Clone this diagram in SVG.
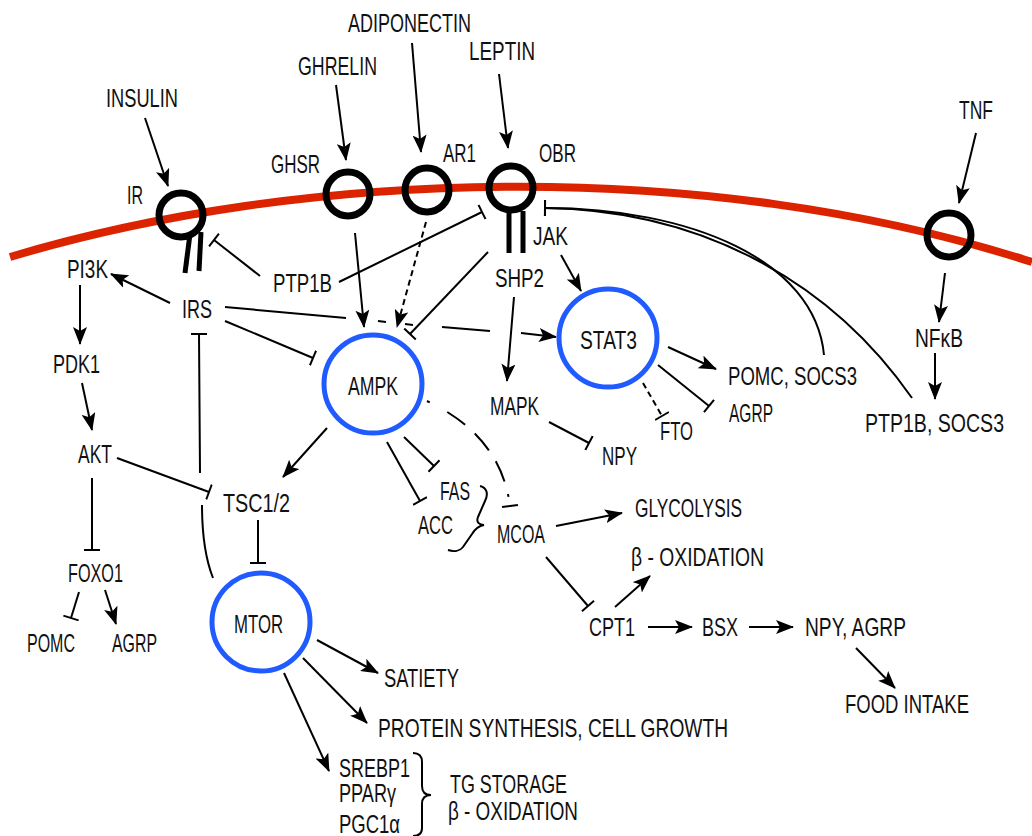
<svg xmlns="http://www.w3.org/2000/svg" width="1032" height="836" viewBox="0 0 1032 836">
<style>
.t{font-family:"Liberation Sans Narrow","Liberation Sans",Arial,sans-serif;font-size:26px;fill:#111}
.ring{fill:none;stroke:#000;stroke-width:7}
.stem{stroke:#000;stroke-width:5}
.hub{fill:#fff;stroke:#1f5bff;stroke-width:5}
.c{fill:none;stroke:#000;stroke-width:2}
.a{marker-end:url(#arr)}
.i{marker-end:url(#tee)}
.dsh{stroke-dasharray:6 4}
.brace{fill:none;stroke:#000;stroke-width:2}
</style>
<defs>
<marker id="arr" viewBox="0 0 18 14" refX="17" refY="7" markerWidth="18" markerHeight="14" markerUnits="userSpaceOnUse" orient="auto"><path d="M0,0 L18,7 L0,14 L4,7 z" fill="#000"/></marker>
<marker id="tee" viewBox="0 0 4 16" refX="2" refY="8" markerWidth="4" markerHeight="16" markerUnits="userSpaceOnUse" orient="auto"><line x1="2" y1="0" x2="2" y2="16" stroke="#000" stroke-width="2"/></marker>
</defs>
<rect width="1032" height="836" fill="#fff"/>
<path id="membrane" d="M10,257 C300,170 700,155 1032,262" fill="none" stroke="#dc2300" stroke-width="8"/>

<g id="connectors">
<line class="c a" x1="145" y1="118" x2="168" y2="186"/>
<line class="c a" x1="336" y1="85" x2="346" y2="160"/>
<line class="c a" x1="412" y1="43" x2="421" y2="152"/>
<line class="c a" x1="499" y1="74" x2="508" y2="148"/>
<line class="c a" x1="976" y1="133" x2="959" y2="203"/>
<line class="c a" x1="945" y1="273" x2="939" y2="322"/>
<line class="c a" x1="935" y1="353" x2="935" y2="399"/>
<line class="c a" x1="170" y1="303" x2="111" y2="274"/>
<line class="c a" x1="80" y1="285" x2="80" y2="344"/>
<line class="c a" x1="82" y1="383" x2="92" y2="430"/>
<line class="c a" x1="105" y1="590" x2="116" y2="624"/>
<line class="c a" x1="355" y1="233" x2="364" y2="327"/>
<line class="c a dsh" x1="426" y1="222" x2="397" y2="327"/>
<path class="c a" d="M225,307 L346,318 M378,321 L386,322 M405,324 L413,325 M442,327 L490,331 M521,333 L556,337"/>
<line class="c a" x1="561" y1="255" x2="581" y2="291"/>
<line class="c a" x1="514" y1="297" x2="507" y2="381"/>
<line class="c a" x1="668" y1="347" x2="716" y2="369"/>
<line class="c a" x1="327" y1="428" x2="283" y2="477"/>
<line class="c a" x1="556" y1="526" x2="622" y2="513"/>
<line class="c a" x1="615" y1="607" x2="650" y2="576"/>
<line class="c a" x1="648" y1="627" x2="692" y2="627"/>
<line class="c a" x1="749" y1="627" x2="793" y2="627"/>
<line class="c a" x1="856" y1="648" x2="895" y2="688"/>
<line class="c a" x1="317" y1="640" x2="378" y2="673"/>
<line class="c a" x1="303" y1="658" x2="367" y2="723"/>
<line class="c a" x1="284" y1="673" x2="329" y2="771"/>

<line class="c i" x1="260" y1="276" x2="214" y2="240"/>
<line class="c i" x1="339" y1="282" x2="482" y2="212"/>
<line class="c i" x1="225" y1="321" x2="313" y2="358"/>
<line class="c i" x1="488" y1="252" x2="410" y2="334"/>
<path class="c i" d="M824,355 C815,260 690,208 545,208"/>
<path class="c i" d="M912,398 C830,280 700,210 545,208"/>
<line class="c i" x1="658" y1="365" x2="709" y2="406"/>
<line class="c i dsh" x1="643" y1="383" x2="662" y2="416"/>
<line class="c i" x1="549" y1="422" x2="589" y2="443"/>
<line class="c i" x1="92" y1="478" x2="92" y2="550"/>
<line class="c i" x1="79" y1="592" x2="71" y2="618"/>
<line class="c i" x1="117" y1="458" x2="209" y2="492"/>
<path class="c i" d="M213,578 Q202,550 202,505 M200,473 L199,334"/>
<line class="c i" x1="258" y1="520" x2="258" y2="563"/>
<line class="c i" x1="404" y1="437" x2="434" y2="466"/>
<line class="c i" x1="387" y1="442" x2="420" y2="501"/>
<path class="c i" d="M427,401 Q501,436 510,506" stroke-dasharray="3 20 22 13 22 13 22 13"/>
<line class="c i" x1="546" y1="557" x2="588" y2="606"/>
</g>

<g id="ir"><circle class="ring" cx="181" cy="215" r="22"/><line class="stem" x1="190" y1="234" x2="185" y2="273"/><line class="stem" x1="201" y1="232" x2="199" y2="271"/><text class="t" x="127" y="204" textLength="16" lengthAdjust="spacingAndGlyphs">IR</text></g>
<g id="ghsr"><circle class="ring" cx="348" cy="194" r="22"/><text class="t" x="271" y="173" textLength="49" lengthAdjust="spacingAndGlyphs">GHSR</text></g>
<g id="ar1"><circle class="ring" cx="427" cy="190" r="22"/><text class="t" x="443" y="162" textLength="33" lengthAdjust="spacingAndGlyphs">AR1</text></g>
<g id="obr"><circle class="ring" cx="511" cy="188" r="22"/><line class="stem" x1="509" y1="211" x2="509" y2="253"/><line class="stem" x1="523" y1="211" x2="523" y2="253"/><text class="t" x="539" y="162" textLength="37" lengthAdjust="spacingAndGlyphs">OBR</text></g>
<g id="tnfr"><circle class="ring" cx="949" cy="235" r="22"/></g>

<g id="insulin"><text class="t" x="106" y="107" textLength="72" lengthAdjust="spacingAndGlyphs">INSULIN</text></g>
<g id="ghrelin"><text class="t" x="298" y="75" textLength="79" lengthAdjust="spacingAndGlyphs">GHRELIN</text></g>
<g id="adiponectin"><text class="t" x="348" y="32" textLength="123" lengthAdjust="spacingAndGlyphs">ADIPONECTIN</text></g>
<g id="leptin"><text class="t" x="469" y="60" textLength="66" lengthAdjust="spacingAndGlyphs">LEPTIN</text></g>
<g id="tnf"><text class="t" x="959" y="119" textLength="34" lengthAdjust="spacingAndGlyphs">TNF</text></g>
<g id="pi3k"><text class="t" x="67" y="278" textLength="41" lengthAdjust="spacingAndGlyphs">PI3K</text></g>
<g id="ptp1b"><text class="t" x="273" y="292" textLength="59" lengthAdjust="spacingAndGlyphs">PTP1B</text></g>
<g id="irs"><text class="t" x="182" y="318" textLength="30" lengthAdjust="spacingAndGlyphs">IRS</text></g>
<g id="shp2"><text class="t" x="495" y="287" textLength="49" lengthAdjust="spacingAndGlyphs">SHP2</text></g>
<g id="jak"><text class="t" x="533" y="245" textLength="35" lengthAdjust="spacingAndGlyphs">JAK</text></g>
<g id="stat3"><circle class="hub" cx="608" cy="338" r="49"/><text class="t" x="580" y="349" textLength="57" lengthAdjust="spacingAndGlyphs">STAT3</text></g>
<g id="ampk"><circle class="hub" cx="373" cy="384" r="49"/><text class="t" x="348" y="395" textLength="50" lengthAdjust="spacingAndGlyphs">AMPK</text></g>
<g id="mtor"><circle class="hub" cx="261" cy="622" r="49"/><text class="t" x="234" y="633" textLength="49" lengthAdjust="spacingAndGlyphs">MTOR</text></g>
<g id="mapk"><text class="t" x="490" y="415" textLength="49" lengthAdjust="spacingAndGlyphs">MAPK</text></g>
<g id="pomc-socs3"><text class="t" x="728" y="385" textLength="129" lengthAdjust="spacingAndGlyphs">POMC, SOCS3</text></g>
<g id="agrp-r"><text class="t" x="729" y="422" textLength="44" lengthAdjust="spacingAndGlyphs">AGRP</text></g>
<g id="fto"><text class="t" x="660" y="440" textLength="33" lengthAdjust="spacingAndGlyphs">FTO</text></g>
<g id="npy"><text class="t" x="602" y="465" textLength="35" lengthAdjust="spacingAndGlyphs">NPY</text></g>
<g id="nfkb"><text class="t" x="915" y="347" textLength="48" lengthAdjust="spacingAndGlyphs">NFκB</text></g>
<g id="ptp1b-socs3"><text class="t" x="865" y="432" textLength="139" lengthAdjust="spacingAndGlyphs">PTP1B, SOCS3</text></g>
<g id="pdk1"><text class="t" x="53" y="373" textLength="47" lengthAdjust="spacingAndGlyphs">PDK1</text></g>
<g id="akt"><text class="t" x="78" y="463" textLength="34" lengthAdjust="spacingAndGlyphs">AKT</text></g>
<g id="tsc12"><text class="t" x="223" y="512" textLength="67" lengthAdjust="spacingAndGlyphs">TSC1/2</text></g>
<g id="fas"><text class="t" x="440" y="500" textLength="30" lengthAdjust="spacingAndGlyphs">FAS</text></g>
<g id="acc"><text class="t" x="418" y="534" textLength="35" lengthAdjust="spacingAndGlyphs">ACC</text></g>
<path id="brace-fas-acc" class="brace" d="M480,486 C488,488 488,495 485,501 L478,517 C476,522 479,525 484,525 C478,526 475,529 472,534 L463,547 C460,551 454,552 448,550"/>
<g id="mcoa"><text class="t" x="497" y="543" textLength="48" lengthAdjust="spacingAndGlyphs">MCOA</text></g>
<g id="glycolysis"><text class="t" x="635" y="517" textLength="107" lengthAdjust="spacingAndGlyphs">GLYCOLYSIS</text></g>
<g id="beta-ox-1"><text class="t" x="631" y="566" textLength="133" lengthAdjust="spacingAndGlyphs">β - OXIDATION</text></g>
<g id="cpt1"><text class="t" x="589" y="636" textLength="46" lengthAdjust="spacingAndGlyphs">CPT1</text></g>
<g id="bsx"><text class="t" x="702" y="636" textLength="36" lengthAdjust="spacingAndGlyphs">BSX</text></g>
<g id="npy-agrp"><text class="t" x="805" y="636" textLength="101" lengthAdjust="spacingAndGlyphs">NPY, AGRP</text></g>
<g id="food-intake"><text class="t" x="845" y="713" textLength="124" lengthAdjust="spacingAndGlyphs">FOOD INTAKE</text></g>
<g id="foxo1"><text class="t" x="68" y="582" textLength="55" lengthAdjust="spacingAndGlyphs">FOXO1</text></g>
<g id="pomc-l"><text class="t" x="27" y="652" textLength="48" lengthAdjust="spacingAndGlyphs">POMC</text></g>
<g id="agrp-l"><text class="t" x="112" y="652" textLength="45" lengthAdjust="spacingAndGlyphs">AGRP</text></g>
<g id="satiety"><text class="t" x="384" y="687" textLength="75" lengthAdjust="spacingAndGlyphs">SATIETY</text></g>
<g id="protein"><text class="t" x="378" y="737" textLength="350" lengthAdjust="spacingAndGlyphs">PROTEIN SYNTHESIS, CELL GROWTH</text></g>
<g id="srebp-group">
<text class="t" x="339" y="777" textLength="71" lengthAdjust="spacingAndGlyphs">SREBP1</text>
<text class="t" x="339" y="802" textLength="57" lengthAdjust="spacingAndGlyphs">PPARγ</text>
<text class="t" x="339" y="833" textLength="61" lengthAdjust="spacingAndGlyphs">PGC1α</text>
<path class="brace" d="M413,753 C420,753 422,757 422,762 L422,786 C422,792 425,795 431,795 C425,795 422,798 422,804 L422,828 C422,833 419,836 413,836"/>
</g>
<g id="tg-storage"><text class="t" x="450" y="793" textLength="117" lengthAdjust="spacingAndGlyphs">TG STORAGE</text></g>
<g id="beta-ox-2"><text class="t" x="448" y="820" textLength="130" lengthAdjust="spacingAndGlyphs">β - OXIDATION</text></g>
</svg>
